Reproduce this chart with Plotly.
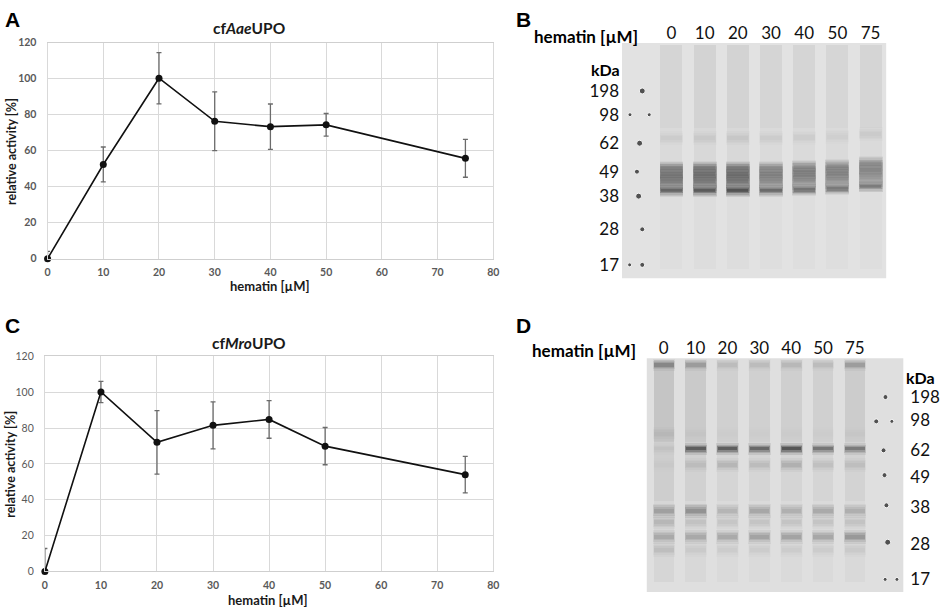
import plotly.graph_objects as go

# ---- activity data ----
hematin = [0, 10, 20, 30, 40, 50, 75]

aae_activity = [0, 52.3, 100.2, 76.3, 73.3, 74.3, 55.7]
aae_err = [4.0, 9.7, 14.2, 16.3, 12.6, 6.3, 10.5]

mro_activity = [0, 100.1, 72.0, 81.5, 84.8, 69.9, 54.0]
mro_err = [12.8, 5.9, 17.7, 13.1, 10.5, 10.4, 10.2]

# ---- gel data ----
lane_labels = ["0", "10", "20", "30", "40", "50", "75"]
lanes = list(range(len(lane_labels)))
ladder_kda = ["198", "98", "62", "49", "38", "28", "17"]

# migration in % of gel height (top = 0)
ladder_pos_B = [20.4, 30.5, 42.6, 54.7, 65.1, 79.2, 94.3]
ladder_pos_D = [16.4, 26.6, 39.4, 50.8, 63.5, 79.3, 94.4]

# ladder dots (lane units, migration %)
dots_B_x = [-0.88, -1.25, -0.67, -0.96, -1.04, -0.99, -0.88, -1.26, -0.88]
dots_B_y = [20.4, 30.5, 30.5, 42.6, 54.7, 65.1, 79.2, 94.3, 94.3]
dots_D_x = [6.96, 6.67, 7.16, 6.90, 6.93, 6.99, 7.03, 6.95, 7.32]
dots_D_y = [16.6, 27.0, 27.0, 39.4, 50.0, 62.9, 78.7, 94.6, 94.6]

# bands: position and intensity per lane
bands_B_pos = [40.5, 53.0, 55.8, 58.5, 62.75]
bands_B_int = [
    [0.08, 0.10, 0.12, 0.08, 0.07, 0.06, 0.10],
    [0.30, 0.36, 0.36, 0.30, 0.34, 0.32, 0.30],
    [0.42, 0.48, 0.50, 0.40, 0.42, 0.38, 0.32],
    [0.38, 0.44, 0.46, 0.32, 0.28, 0.24, 0.20],
    [0.55, 0.65, 0.78, 0.55, 0.45, 0.42, 0.38],
]
shift_B = [0, 0, 0, 0, -0.3, -0.7, -1.8]
smear_B = [0.04, 0.05, 0.05, 0.04, 0.04, 0.035, 0.04]
sharp_B = [False, False, False, False, True]

bands_D_pos = [3.1, 32.5, 38.8, 45.7, 65.3, 70.3, 76.5, 82.1]
bands_D_int = [
    [0.40, 0.28, 0.10, 0.10, 0.12, 0.10, 0.28],
    [0.10, 0.03, 0.02, 0.02, 0.02, 0.02, 0.03],
    [0.05, 0.85, 0.85, 0.75, 0.95, 0.62, 0.58],
    [0.03, 0.16, 0.24, 0.20, 0.30, 0.16, 0.16],
    [0.46, 0.62, 0.30, 0.42, 0.34, 0.40, 0.34],
    [0.24, 0.16, 0.14, 0.16, 0.16, 0.16, 0.16],
    [0.36, 0.38, 0.40, 0.46, 0.46, 0.42, 0.56],
    [0.18, 0.08, 0.08, 0.08, 0.08, 0.08, 0.10],
]
smear_D = [0.10, 0.08, 0.05, 0.05, 0.06, 0.05, 0.07]
sharp_D = [True, False, True, False, False, False, False, False]

W, H = 941, 614


def fx(a):
    return a / W


def fy(a):
    return 1 - a / H


def px_x(a, b):
    return [fx(a), fx(b)]


def px_y(top, bottom):
    return [fy(bottom), fy(top)]


fig = go.Figure()

# ---- line charts ----
for xa, ya, vals, err in [("x", "y", aae_activity, aae_err),
                          ("x2", "y2", mro_activity, mro_err)]:
    fig.add_trace(go.Scatter(
        x=hematin, y=vals, xaxis=xa, yaxis=ya,
        mode="lines+markers",
        line=dict(color="#111111", width=1.6),
        marker=dict(color="#111111", size=7),
        error_y=dict(type="data", array=err, visible=True,
                     color="#6b6b6b", thickness=1.3, width=2.5),
        showlegend=False,
        cliponaxis=False,
    ))


# ---- gels ----
def bar_layer(xa, ya, heights, bases, colors, width):
    fig.add_trace(go.Bar(
        x=lanes, y=heights, base=bases, width=width, xaxis=xa, yaxis=ya,
        marker=dict(color=colors, line_width=0),
        showlegend=False, hoverinfo="skip",
    ))


# (thickness in %, alpha factor, width factor) for the blur layers
crisp = [(5.0, 0.12, 1.0), (3.5, 0.18, 0.97), (2.4, 0.28, 0.93), (1.5, 0.45, 0.88)]
diffuse = [(6.0, 0.12, 1.0), (4.4, 0.16, 0.97), (3.0, 0.2, 0.93), (1.8, 0.22, 0.88)]


def add_gel(xa, ya, pos, ints, shift, smear, lane_w, sharp):
    # faint lane smears, fading downwards
    for h, f in [(95, 0.5), (60, 0.5), (35, 0.6)]:
        bar_layer(xa, ya, [h] * 7, [1] * 7,
                  ["rgba(60,60,60,%.3f)" % (s * f) for s in smear], lane_w * 0.92)
    for p, row, sh in zip(pos, ints, sharp):
        for thick, f, wf in (crisp if sh else diffuse):
            bar_layer(xa, ya, [thick] * 7, [p + s - thick / 2 for s in shift],
                      ["rgba(30,30,30,%.3f)" % (v * f) for v in row], lane_w * wf)


add_gel("x3", "y3", bands_B_pos, bands_B_int, shift_B, smear_B, 0.72, sharp_B)
# blurred block behind the B bands
for h, a in [(14.5, 0.08), (12.5, 0.10), (10.5, 0.10)]:
    bar_layer("x3", "y3", [h] * 7, [57.7 - h / 2 + s for s in shift_B],
              ["rgba(30,30,30,%.3f)" % (a * (1.2 if i < 3 else 0.9)) for i in lanes], 0.72)

add_gel("x4", "y4", bands_D_pos, bands_D_int, [0] * 7, smear_D, 0.70, sharp_D)

fig.add_trace(go.Scatter(x=dots_B_x, y=dots_B_y, xaxis="x3", yaxis="y3", mode="markers",
                         marker=dict(color="#151515", size=[6, 4, 4, 6, 5, 6, 5, 4, 5]),
                         showlegend=False, hoverinfo="skip"))
fig.add_trace(go.Scatter(x=dots_D_x, y=dots_D_y, xaxis="x4", yaxis="y4", mode="markers",
                         marker=dict(color="#151515", size=[5, 5, 4, 5, 5, 5, 6, 4, 4]),
                         showlegend=False, hoverinfo="skip"))

grid = "#d9d9d9"
tick_gray = "#595959"
font = "Lato, 'Open Sans', sans-serif"

chart_x = dict(range=[0, 80], dtick=10, showgrid=True, gridcolor=grid, gridwidth=1,
               zeroline=False, showline=True, mirror=True, linecolor="#cfcfcf",
               ticks="", ticklabelstandoff=4,
               tickfont=dict(family=font, size=10.5, color=tick_gray, weight="bold"))
chart_y = dict(range=[0, 120], dtick=20, showgrid=True, gridcolor=grid, gridwidth=1,
               zeroline=False, showline=True, mirror=True, linecolor=grid,
               ticks="", ticklabelstandoff=8,
               tickfont=dict(family=font, size=10.5, color=tick_gray, weight="bold"))

gel_y_common = dict(range=[100, 0], showgrid=False, zeroline=False, showline=False,
                    ticks="", tickmode="array", ticktext=ladder_kda,
                    tickfont=dict(family=font, size=17, color="#111111"))
gel_x_common = dict(showgrid=False, zeroline=False, showline=False, ticks="",
                    side="top", tickmode="array", tickvals=lanes, ticktext=lane_labels,
                    ticklabelstandoff=0,
                    tickfont=dict(family=font, size=17, color="#111111"))

fig.update_layout(
    width=W, height=H,
    margin=dict(l=0, r=0, t=0, b=0),
    paper_bgcolor="white", plot_bgcolor="white",
    barmode="overlay", bargap=0,
    font=dict(family=font, color="#222222"),
    xaxis=dict(domain=px_x(45, 495), anchor="y", **chart_x),
    yaxis=dict(domain=px_y(37.3, 257.7), anchor="x", **chart_y),
    xaxis2=dict(domain=px_x(42.3, 495), anchor="y2", **chart_x),
    yaxis2=dict(domain=px_y(357.3, 576.7), anchor="x2",
                **{**chart_y, "tickfont": dict(family=font, size=10.5, color=tick_gray)}),
    xaxis3=dict(domain=px_x(625, 891.7), anchor="y3", range=[-1.49, 6.47], **gel_x_common),
    yaxis3=dict(domain=px_y(37.7, 277.7), anchor="x3", side="left",
                tickvals=ladder_pos_B, ticklabelstandoff=2, **gel_y_common),
    xaxis4=dict(domain=px_x(650, 909), anchor="y4", range=[-0.53, 7.52], **gel_x_common),
    yaxis4=dict(domain=px_y(359.3, 597.7), anchor="x4", side="right",
                tickvals=ladder_pos_D, ticklabelstandoff=6, **gel_y_common),
)

# gel backgrounds
for xa, ya, col in [("x3", "y3", "#e2e2e2"), ("x4", "y4", "#dfdfdf")]:
    fig.add_shape(type="rect", xref=xa + " domain", yref=ya + " domain",
                  x0=0, x1=1, y0=0, y1=1, fillcolor=col, line_width=0, layer="below")


def note(text, x, y, size, bold=True, fam=font, angle=0, xanchor="center", color="#1a1a1a"):
    fig.add_annotation(text=text, x=fx(x), y=fy(y), xref="paper", yref="paper",
                       showarrow=False, textangle=angle, xanchor=xanchor, yanchor="middle",
                       borderpad=0,
                       font=dict(family=fam, size=size, color=color,
                                 weight="bold" if bold else "normal"))


arial = "'Liberation Sans', Arial, sans-serif"
note("A", 10, 14, 21, fam=arial, color="black")
note("B", 525.5, 13.5, 21, fam=arial, color="black")
note("C", 9.5, 325.5, 21, fam=arial, color="black")
note("D", 525.5, 325.5, 21, fam=arial, color="black")

note("cf<i>Aae</i>UPO", 248, 22, 15.5)
note("cf<i>Mro</i>UPO", 248, 344, 15.5)
note("hematin [µM]", 270, 286, 13)
note("hematin [µM]", 268, 606, 13)
note("relative activity [%]", 8, 148, 12.5, angle=-90)
note("relative activity [%]", 8, 467, 12.5, angle=-90)

note("hematin [µM]", 589, 30.7, 17, color="black")
note("hematin [µM]", 586.5, 351, 17, color="black")
note("kDa", 624, 65, 16, xanchor="right", color="black")
note("kDa", 911, 379, 16, xanchor="left", color="black")

# drop the default body margin so the 941x614 figure fills the window exactly
fig.write_html("out.html", config={"displayModeBar": False},
               post_script="document.body.style.margin = '0px';")
